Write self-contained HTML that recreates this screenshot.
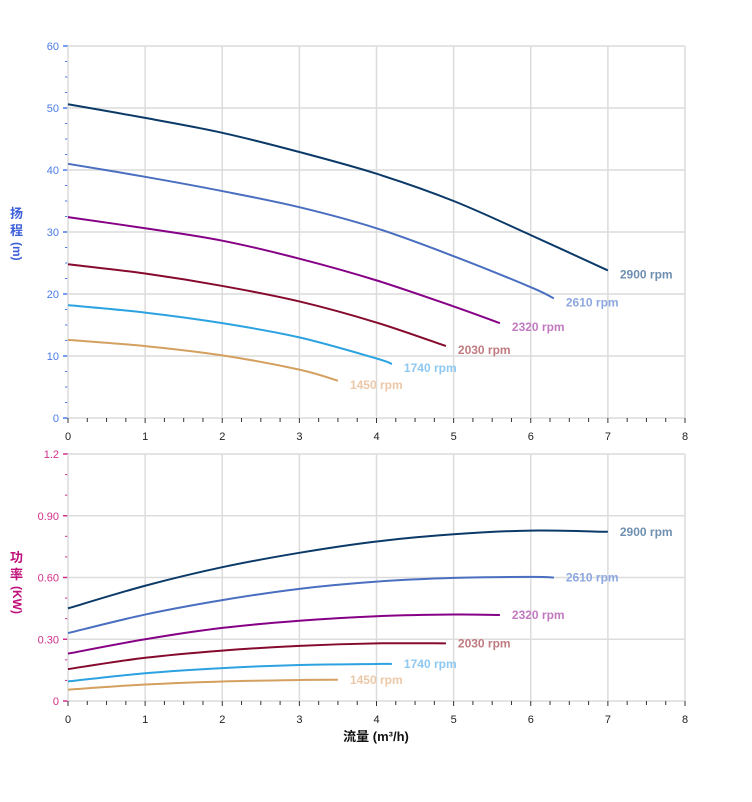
<!DOCTYPE html>
<html><head><meta charset="utf-8"><style>
body{margin:0;background:#fff;}
svg text{font-family:"Liberation Sans","Noto Sans CJK SC",sans-serif;}
</style></head><body>
<svg id="c" width="752" height="797"></svg>
<script>
const speeds=["2900 rpm","2610 rpm","2320 rpm","2030 rpm","1740 rpm","1450 rpm"];
const flowPts=[[0,1,2,3,4,5,6,7],[0,1,2,3,4,5,6,6.3],[0,1,2,3,4,5,5.6],[0,1,2,3,4,4.9],[0,1,2,3,4,4.2],[0,1,2,3,3.5]];
const headVals=[[50.6,48.4,46,42.9,39.4,35,29.5,23.8],[41,38.9,36.6,34,30.6,26.1,21.1,19.3],[32.4,30.6,28.6,25.7,22.2,18.0,15.3],[24.8,23.3,21.3,18.8,15.4,11.6],[18.2,17,15.3,13,9.6,8.7],[12.6,11.6,10.1,7.8,6.0]];
const powerVals=[[0.45,0.56,0.65,0.72,0.775,0.81,0.828,0.822],[0.33,0.42,0.49,0.545,0.58,0.598,0.603,0.60],[0.23,0.30,0.355,0.39,0.412,0.42,0.418],[0.155,0.21,0.245,0.268,0.28,0.28],[0.095,0.135,0.16,0.175,0.18,0.18],[0.055,0.08,0.095,0.102,0.103]];
const xTicks=[0,1,2,3,4,5,6,7,8];
const headTicks=[0,10,20,30,40,50,60];
const powerTicks=[0,0.3,0.6,0.9,1.2];
const powerTickLabels=["0","0.30","0.60","0.90","1.2"];
const lineColors=["#0b3a68","#4a6fc0","#860086","#850a2e","#2ca3e0","#d4a060"];
const labelColors=["#6f8fb0","#8da8e0","#c07ac0","#c07b80","#8ec8f0","#ecc8a8"];
const NS="http://www.w3.org/2000/svg";
const svg=document.getElementById('c');
function mk(t,a,p){const e=document.createElementNS(NS,t);for(const k in a)e.setAttribute(k,a[k]);(p||svg).appendChild(e);return e;}
const X0=68,X1=685;
const xs=q=>X0+q*(X1-X0)/8;
function smooth(pts){let d=`M${pts[0][0]},${pts[0][1]}`;for(let i=0;i<pts.length-1;i++){const p0=pts[i-1]||pts[i],p1=pts[i],p2=pts[i+1],p3=pts[i+2]||p2;
d+=` C${p1[0]+(p2[0]-p0[0])/6},${p1[1]+(p2[1]-p0[1])/6} ${p2[0]-(p3[0]-p1[0])/6},${p2[1]-(p3[1]-p1[1])/6} ${p2[0]},${p2[1]}`;}return d;}
function panel(name,top,bot,ymax,ticks,tlabels,minorStep,vals,tickColor,labDy){
  const ys=v=>bot-v*(bot-top)/ymax;
  const g=mk('g',{});
  
  
  ticks.forEach((t,i)=>{const l=mk('line',{x1:X0,x2:X1,y1:ys(t),y2:ys(t),stroke:'#dcdcdc','stroke-width':1.5},g);
    
    const tx=mk('text',{x:X0-9,y:ys(t)+4,'text-anchor':'end','font-size':11,fill:tickColor},g);
    tx.textContent=tlabels[i];
    mk('line',{x1:X0-5,x2:X0,y1:ys(t),y2:ys(t),stroke:tickColor,'stroke-width':1.5},g);});
  for(let v=minorStep;v<ymax;v+=minorStep){mk('line',{x1:X0-3,x2:X0,y1:ys(v),y2:ys(v),stroke:tickColor,'stroke-width':1},g);}
  xTicks.forEach(t=>{const l=mk('line',{x1:xs(t),x2:xs(t),y1:top,y2:bot,stroke:'#dcdcdc','stroke-width':1.5},g);
    
    mk('line',{x1:xs(t),x2:xs(t),y1:bot,y2:bot+5,stroke:'#333','stroke-width':1},g);
    const tx=mk('text',{x:xs(t),y:bot+22,'text-anchor':'middle','font-size':11,fill:'#222'},g);
    tx.textContent=t;});
  for(let q=0.25;q<8;q+=0.25){if(q%1)mk('line',{x1:xs(q),x2:xs(q),y1:bot,y2:bot+4,stroke:'#333','stroke-width':1},g);}
  vals.forEach((s,i)=>{const pts=s.map((v,j)=>[xs(flowPts[i][j]),ys(v)]);
    const p=mk('path',{d:smooth(pts),fill:'none',stroke:lineColors[i],'stroke-width':2},g);
    
    const e=pts[pts.length-1];
    const t=mk('text',{x:e[0]+12,y:e[1]+labDy,'font-size':12,'font-weight':'bold',fill:labelColors[i]},g);
    t.textContent=speeds[i];});
}
panel('head-chart',46,418,60,headTicks,headTicks.map(String),2.5,headVals,'#4a7be8',8);
panel('power-chart',454,701,1.2,powerTicks,powerTickLabels,0.1,powerVals,'#d0308a',4);
function ytitle(name,x,y,c1,c2,unit,color){const g=mk('g',{fill:color,'font-size':13,'font-weight':'bold'});
  
  const a=mk('text',{x:x,y:y},g);a.textContent=c1;const b=mk('text',{x:x,y:y+17},g);b.textContent=c2;
  const u=mk('text',{x:0,y:0,transform:`translate(${x+3},${y+24}) rotate(90)`,'font-size':12},g);u.textContent=unit;}
ytitle('head-axis-title',10,218,'扬','程','(m)','#3d5fd8');
ytitle('power-axis-title',10,562,'功','率','(KW)','#c0107a');
const xt=mk('text',{x:376,y:741,'text-anchor':'middle','font-size':13,'font-weight':'bold',fill:'#111'});
xt.textContent='流量 (m³/h)';
</script>
</body></html>
